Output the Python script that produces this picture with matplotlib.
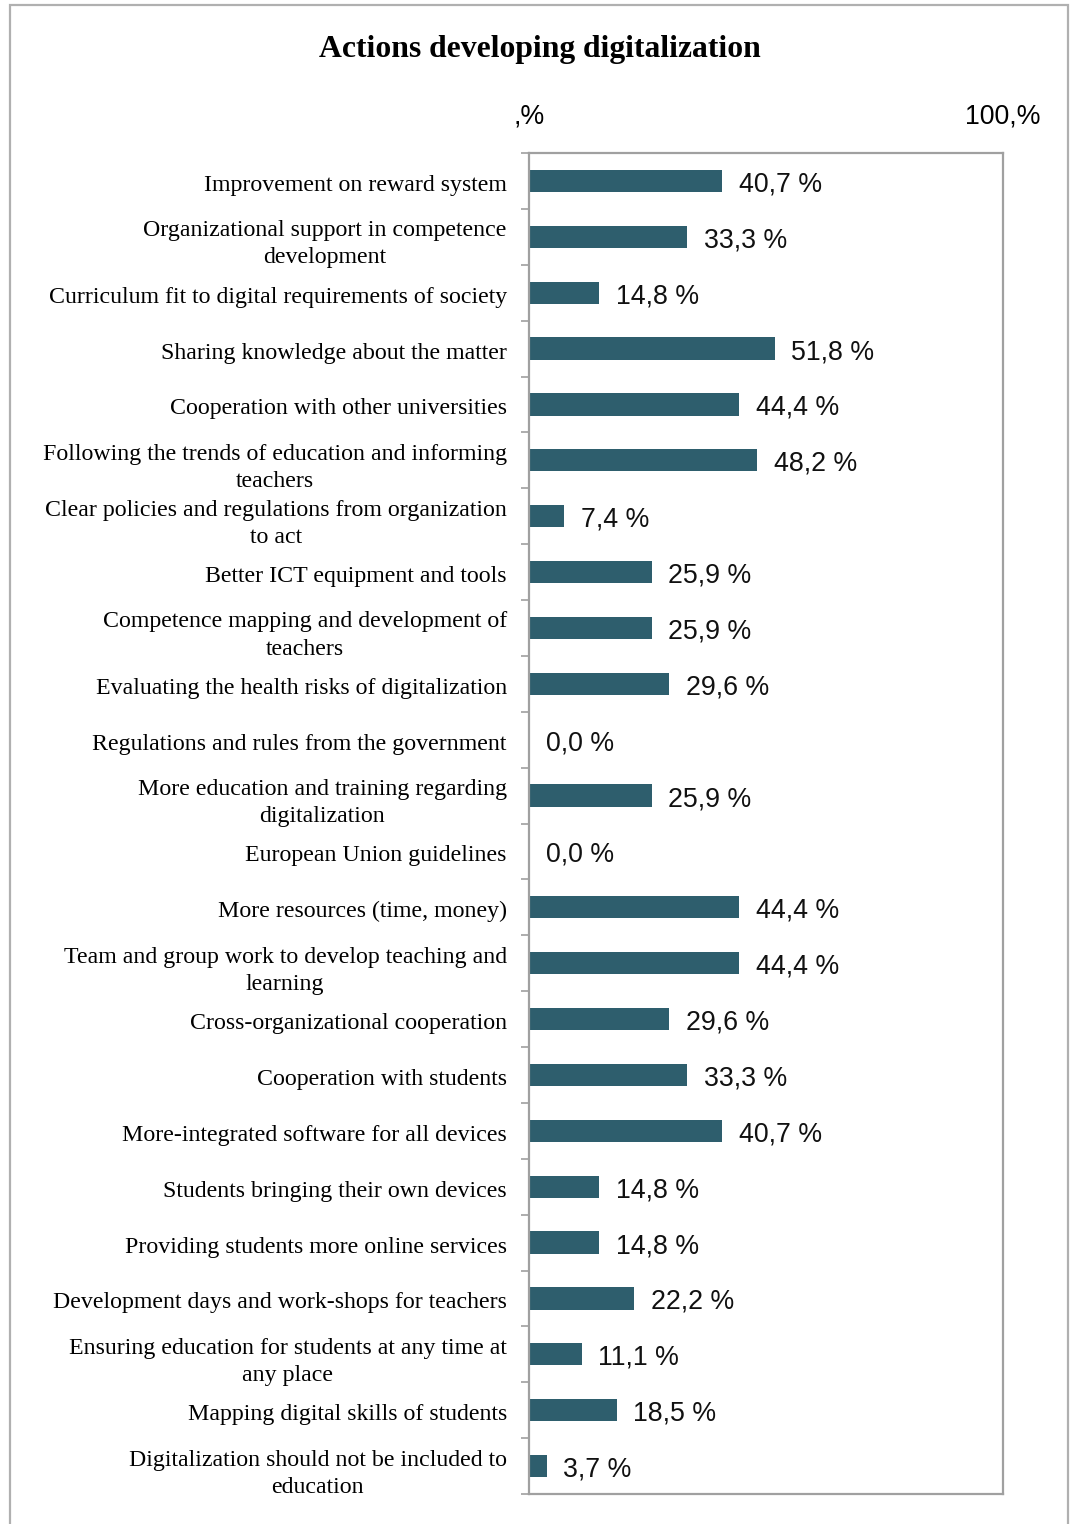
import matplotlib.pyplot as plt
import matplotlib.transforms as mtransforms
from matplotlib.patches import Rectangle
import numpy as np

actions = [
    "Improvement on reward system",
    "Organizational support in competence\ndevelopment",
    "Curriculum fit to digital requirements of society",
    "Sharing knowledge about the matter",
    "Cooperation with other universities",
    "Following the trends of education and informing\nteachers",
    "Clear policies and regulations from organization\nto act",
    "Better ICT equipment and tools",
    "Competence mapping and development of\nteachers",
    "Evaluating the health risks of digitalization",
    "Regulations and rules from the government",
    "More education and training regarding\ndigitalization",
    "European Union guidelines",
    "More resources (time, money)",
    "Team and group work to develop teaching and\nlearning",
    "Cross-organizational cooperation",
    "Cooperation with students",
    "More-integrated software for all devices",
    "Students bringing their own devices",
    "Providing students more online services",
    "Development days and work-shops for teachers",
    "Ensuring education for students at any time at\nany place",
    "Mapping digital skills of students",
    "Digitalization should not be included to\neducation",
]
shares = [40.7, 33.3, 14.8, 51.8, 44.4, 48.2, 7.4, 25.9, 25.9, 29.6, 0.0, 25.9,
          0.0, 44.4, 44.4, 29.6, 33.3, 40.7, 14.8, 14.8, 22.2, 11.1, 18.5, 3.7]
top_ticks = [0, 100]
top_tick_labels = [",%", "100,%"]

bar_color = "#2e5e6d"
frame_color = "#a0a0a0"

fig = plt.figure(figsize=(10.72, 15.24), dpi=100)
# light grey frame around the whole chart
fig.patches.append(Rectangle((10 / 1072, -0.01), 1058 / 1072, 1.01 - 5 / 1524,
                             transform=fig.transFigure, fill=False,
                             edgecolor="#b0b0b0", linewidth=1.6, zorder=0))

ax = fig.add_axes([529 / 1072, 1 - 1494 / 1524, (1003 - 529) / 1072, (1494 - 153) / 1524])
pos = np.arange(len(actions))
ax.barh(pos, shares, height=0.4, color=bar_color, zorder=2)
for p, v in zip(pos, shares):
    ax.annotate(f"{v:.1f} %".replace(".", ","), (v, p), xytext=(12, -2.5),
                textcoords="offset points", va="center", ha="left",
                fontsize=19.3, family="Liberation Sans", color="#111111")

ax.set_xlim(0, 100)
ax.set_ylim(len(actions) - 0.5, -0.5)
ax.set_yticks(pos)
ax.set_yticklabels(actions, family="Liberation Serif", fontsize=17.2,
                   multialignment="center", linespacing=1.38)
ax.set_yticks(np.arange(len(actions) + 1) - 0.5, minor=True)
ax.tick_params(axis="y", which="major", length=0, pad=16)
ax.tick_params(axis="y", which="minor", length=6, width=1.2, color=frame_color)
shift = mtransforms.ScaledTranslation(0, -2 / 100, fig.dpi_scale_trans)
for lbl in ax.get_yticklabels():
    lbl.set_transform(lbl.get_transform() + shift)

ax.xaxis.tick_top()
ax.set_xticks(top_ticks)
ax.set_xticklabels(top_tick_labels, family="Liberation Sans", fontsize=19.3)
ax.tick_params(axis="x", length=0, pad=17)

for s in ax.spines.values():
    s.set_color(frame_color)
    s.set_linewidth(1.6)

fig.text(540 / 1072, 1 - 50 / 1524, "Actions developing digitalization",
         ha="center", va="center", family="Liberation Serif",
         fontweight="bold", fontsize=22.8)

fig.savefig("out.png", dpi=100)
